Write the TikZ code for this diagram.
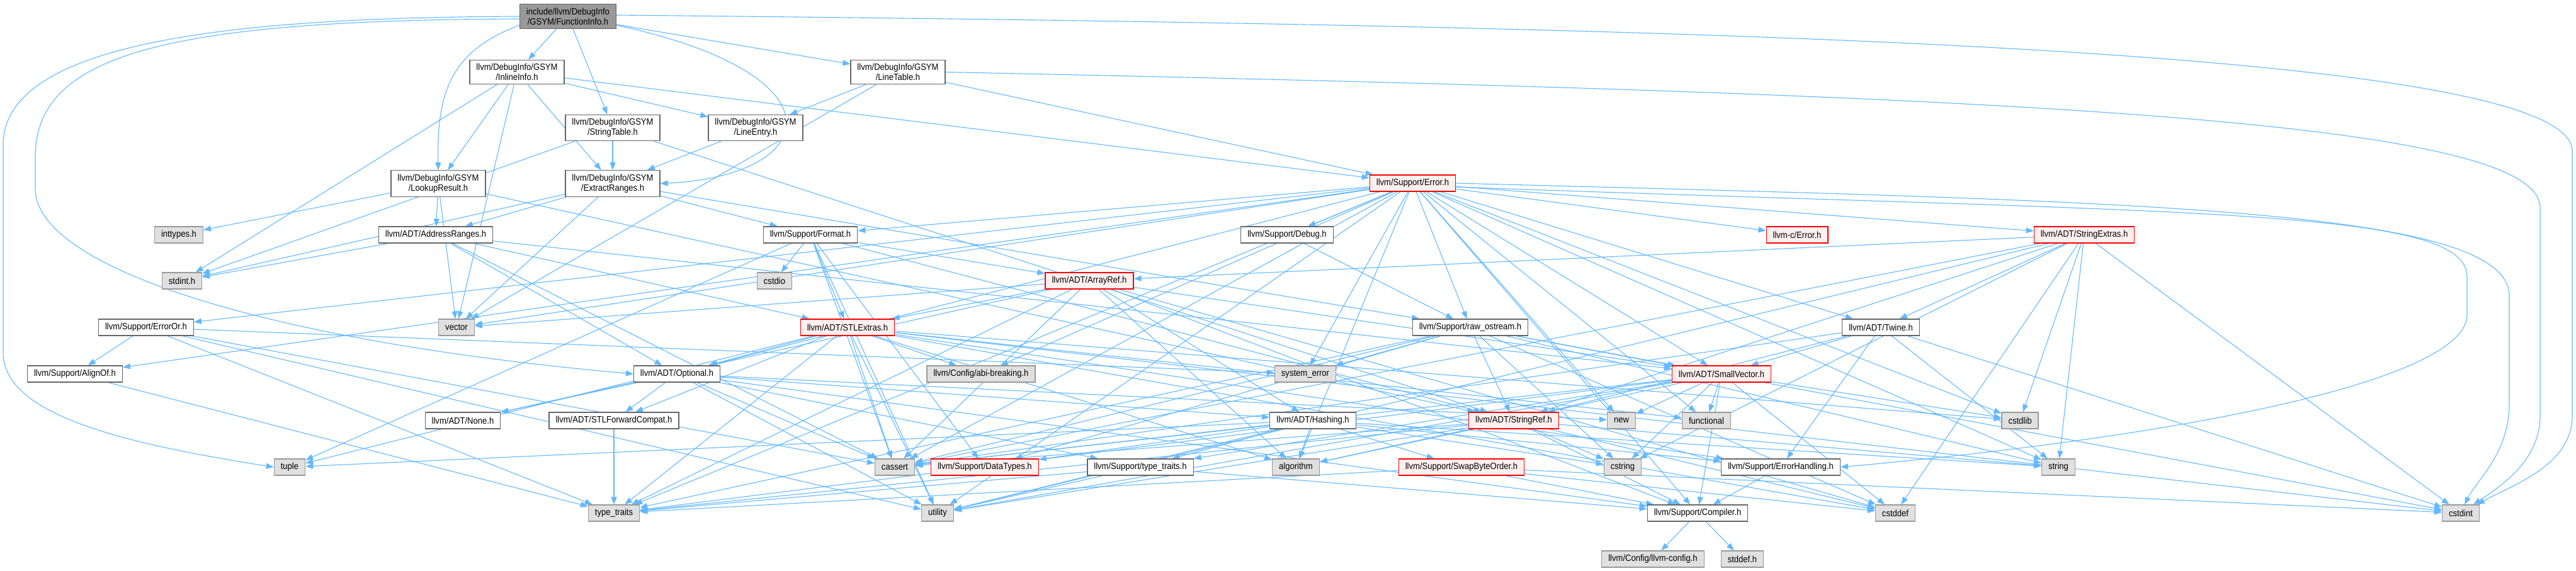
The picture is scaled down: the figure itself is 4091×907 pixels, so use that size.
\documentclass[tikz,border=0pt]{standalone}
\usepackage{fontspec}
\setmainfont{Liberation Sans}[FakeStretch=0.9]
\usetikzlibrary{arrows.meta, backgrounds}
\definecolor{edgeblue}{RGB}{99,184,255}
\definecolor{boxline}{RGB}{102,102,102}
\definecolor{rootfill}{RGB}{153,153,153}
\definecolor{sysline}{RGB}{153,153,153}
\definecolor{sysfill}{RGB}{224,224,224}
\definecolor{cutline}{RGB}{255,0,0}
\definecolor{cutfill}{RGB}{255,240,240}

\begin{document}
\begin{tikzpicture}[x=1pt, y=-1pt,
    every node/.style={font=\fontsize{14.5}{16}\selectfont, align=center,
                       inner xsep=10.5pt, inner ysep=6pt, minimum height=26pt,
                       line width=1.2pt},
    file/.style={rectangle, draw=boxline, fill=white},
    rootfile/.style={rectangle, draw=boxline, fill=rootfill},
    sysfile/.style={rectangle, draw=sysline, fill=sysfill},
    cutfile/.style={rectangle, draw=cutline, fill=cutfill},
    arrow/.style={-{Triangle[length=12pt, width=9pt]}, edgeblue, line width=1.1pt}
]
    \useasboundingbox (0,0) rectangle (4091,907);

    % GSYM headers
    \node[rootfile] (fi) at (902,26) {include/llvm/DebugInfo\\/GSYM/FunctionInfo.h};
    \node[file] (inl) at (821,114.5) {llvm/DebugInfo/GSYM\\/InlineInfo.h};
    \node[file] (ltab) at (1426,114.5) {llvm/DebugInfo/GSYM\\/LineTable.h};
    \node[file] (strtab) at (973,203) {llvm/DebugInfo/GSYM\\/StringTable.h};
    \node[file] (lentry) at (1200,203) {llvm/DebugInfo/GSYM\\/LineEntry.h};
    \node[file] (lookup) at (696,291.5) {llvm/DebugInfo/GSYM\\/LookupResult.h};
    \node[file] (extr) at (973,291.5) {llvm/DebugInfo/GSYM\\/ExtractRanges.h};
    \node[cutfile] (err) at (2243.5,291) {llvm/Support/Error.h};

    % row 373
    \node[sysfile] (inttypes) at (284,373) {inttypes.h};
    \node[file] (addr) at (692,373) {llvm/ADT/AddressRanges.h};
    \node[file] (fmt) at (1287,373) {llvm/Support/Format.h};
    \node[file] (dbg) at (2044,373) {llvm/Support/Debug.h};
    \node[cutfile] (cerr) at (2854,373) {llvm-c/Error.h};
    \node[cutfile] (strext) at (3310,373) {llvm/ADT/StringExtras.h};

    % row 446
    \node[sysfile] (stdint) at (289,446) {stdint.h};
    \node[sysfile] (cstdio) at (1230,446) {cstdio};
    \node[cutfile] (arrref) at (1730,446) {llvm/ADT/ArrayRef.h};

    % row 520
    \node[file] (erroror) at (232,520) {llvm/Support/ErrorOr.h};
    \node[sysfile] (vector) at (725,520) {vector};
    \node[cutfile] (stlext) at (1346,520) {llvm/ADT/STLExtras.h};
    \node[file] (rawos) at (2335,520) {llvm/Support/raw\_ostream.h};
    \node[file] (twine) at (2987,520) {llvm/ADT/Twine.h};

    % row 594
    \node[file] (alignof) at (119,594) {llvm/Support/AlignOf.h};
    \node[file] (optional) at (1075,594) {llvm/ADT/Optional.h};
    \node[sysfile] (abibrk) at (1558,594) {llvm/Config/abi-breaking.h};
    \node[sysfile] (syserr) at (2073,594) {system\_error};
    \node[cutfile] (smallvec) at (2734,594) {llvm/ADT/SmallVector.h};

    % row 668
    \node[file] (none) at (735,668) {llvm/ADT/None.h};
    \node[file] (stlfwd) at (975,668) {llvm/ADT/STLForwardCompat.h};
    \node[file] (hashing) at (2085,668) {llvm/ADT/Hashing.h};
    \node[cutfile] (strref) at (2404,668) {llvm/ADT/StringRef.h};
    \node[sysfile] (hnew) at (2575,668) {new};
    \node[sysfile] (functional) at (2710,668) {functional};
    \node[sysfile] (cstdlib) at (3208,668) {cstdlib};

    % row 742
    \node[sysfile] (tuple) at (460,742) {tuple};
    \node[sysfile] (cassert) at (1421,742) {cassert};
    \node[cutfile] (datatypes) at (1564,742) {llvm/Support/DataTypes.h};
    \node[file] (suptt) at (1811,742) {llvm/Support/type\_traits.h};
    \node[sysfile] (algorithm) at (2058,742) {algorithm};
    \node[cutfile] (swapbo) at (2321,742) {llvm/Support/SwapByteOrder.h};
    \node[sysfile] (cstring) at (2577,742) {cstring};
    \node[file] (errhand) at (2828,742) {llvm/Support/ErrorHandling.h};
    \node[sysfile] (string) at (3269,742) {string};

    % row 815
    \node[sysfile] (typetraits) at (975,815) {type\_traits};
    \node[sysfile] (utility) at (1489,815) {utility};
    \node[file] (compiler) at (2696,815) {llvm/Support/Compiler.h};
    \node[sysfile] (cstddef) at (3010,815) {cstddef};
    \node[sysfile] (cstdint) at (3908,815) {cstdint};

    % row 888
    \node[sysfile] (llvmcfg) at (2625,888) {llvm/Config/llvm-config.h};
    \node[sysfile] (stddef) at (2767,888) {stddef.h};

    \begin{scope}[on background layer]
    % FunctionInfo.h
    \draw[arrow] (fi) -- (inl);
    \draw[arrow] (fi) -- (strtab);
    \draw[arrow] (fi) -- (ltab);
    \draw[arrow] ([yshift=-14pt]fi.west) .. controls (720,80) and (693,140) .. (lookup.north);
    \draw[arrow] ([yshift=-14pt]fi.east) .. controls (1350,120) and (1300,280) .. (extr.east);
    \draw[arrow] (fi.west) .. controls (400,28) and (5,60) .. (5,230) -- (5,560)
        .. controls (5,660) and (200,705) .. (tuple.west);
    \draw[arrow] ([yshift=-4pt]fi.west) .. controls (250,32) and (56,90) .. (56,250) -- (56,300)
        .. controls (56,420) and (400,540) .. (optional.west);
    \draw[arrow] ([yshift=2pt]fi.east) .. controls (2600,40) and (4085,70) .. (4085,240) -- (4085,660)
        .. controls (4085,740) and (3990,770) .. ([xshift=-4pt]cstdint.north east);
    % InlineInfo.h
    \draw[arrow] (inl) -- (lookup);
    \draw[arrow] (inl) -- (extr);
    \draw[arrow] (inl) -- (lentry);
    \draw[arrow] (inl) -- (err);
    \draw[arrow] (inl) -- (stdint);
    \draw[arrow] (inl) -- (vector);
    % LineTable.h
    \draw[arrow] (ltab) -- (lentry);
    \draw[arrow] (ltab) -- (err);
    \draw[arrow] (ltab) -- (vector);
    \draw[arrow] (ltab.east) .. controls (3200,150) and (4034,190) .. (4034,330) -- (4034,660)
        .. controls (4034,730) and (3975,770) .. ([xshift=-10pt]cstdint.north east);
    % StringTable.h, LineEntry.h
    \draw[arrow] (strtab) -- (extr);
    \draw[arrow] (strtab) -- (stdint);
    \draw[arrow] (strtab) -- (strref);
    \draw[arrow] (lentry) -- (extr);
    % LookupResult.h
    \draw[arrow] (lookup) -- (addr);
    \draw[arrow] (lookup) -- (inttypes);
    \draw[arrow] (lookup) -- (strref);
    \draw[arrow] (lookup) -- (vector);
    % ExtractRanges.h
    \draw[arrow] (extr) -- (addr);
    \draw[arrow] (extr) -- (fmt);
    \draw[arrow] (extr) -- (rawos);
    \draw[arrow] (extr) -- (stdint);
    \draw[arrow] (extr) -- (vector);
    % AddressRanges.h
    \draw[arrow] (addr) -- (optional);
    \draw[arrow] (addr) -- (stlext);
    \draw[arrow] (addr) -- (smallvec);
    \draw[arrow] (addr) -- (cassert);
    \draw[arrow] (addr) -- (stdint);
    % Error.h
    \draw[arrow] (err) -- (cerr);
    \draw[arrow] (err) -- (strext);
    \draw[arrow] (err) -- (twine);
    \draw[arrow] (err) -- (abibrk);
    \draw[arrow] (err) -- (alignof);
    \draw[arrow] (err) -- (dbg);
    \draw[arrow] (err) -- (erroror);
    \draw[arrow] (err) -- (fmt);
    \draw[arrow] (err) -- (rawos);
    \draw[arrow] (err) -- (smallvec);
    \draw[arrow] (err) -- (optional);
    \draw[arrow] (err) -- (compiler);
    \draw[arrow] (err) -- (algorithm);
    \draw[arrow] (err) -- (cassert);
    \draw[arrow] (err) -- (cstdlib);
    \draw[arrow] (err) -- (functional);
    \draw[arrow] (err) -- (hnew);
    \draw[arrow] (err) -- (string);
    \draw[arrow] (err) -- (syserr);
    \draw[arrow] (err) -- (typetraits);
    \draw[arrow] (err) -- (utility);
    \draw[arrow] (err) -- (vector);
    \draw[arrow] (err.east) .. controls (3400,320) and (3985,330) .. (3985,470) -- (3985,640)
        .. controls (3985,720) and (3935,760) .. ([xshift=6pt]cstdint.north);
    \draw[arrow] ([yshift=-6pt]err.east) .. controls (3500,340) and (3918,330) .. (3918,440) -- (3918,500)
        .. controls (3918,600) and (3500,690) .. (errhand.east);
    % Format.h, Debug.h
    \draw[arrow] (fmt) -- (arrref);
    \draw[arrow] (fmt) -- (stlext);
    \draw[arrow] (fmt) -- (strref);
    \draw[arrow] (fmt) -- (datatypes);
    \draw[arrow] (fmt) -- (cassert);
    \draw[arrow] (fmt) -- (cstdio);
    \draw[arrow] (fmt) -- (tuple);
    \draw[arrow] (fmt) -- (utility);
    \draw[arrow] (dbg) -- (rawos);
    % StringExtras.h
    \draw[arrow] (strext) -- (arrref);
    \draw[arrow] (strext) -- (strref);
    \draw[arrow] (strext) -- (twine);
    \draw[arrow] (strext) -- (cassert);
    \draw[arrow] (strext) -- (cstddef);
    \draw[arrow] (strext) -- (cstdint);
    \draw[arrow] (strext) -- (cstdlib);
    \draw[arrow] (strext) -- (cstring);
    \draw[arrow] (strext) -- (string);
    \draw[arrow] (strext) -- (utility);
    % ArrayRef.h
    \draw[arrow] (arrref) -- (hashing);
    \draw[arrow] (arrref) -- (none);
    \draw[arrow] (arrref) -- (stlext);
    \draw[arrow] (arrref) -- (smallvec);
    \draw[arrow] (arrref) -- (compiler);
    \draw[arrow] (arrref) -- (algorithm);
    \draw[arrow] (arrref) -- (cassert);
    \draw[arrow] (arrref) -- (cstddef);
    \draw[arrow] (arrref) -- (typetraits);
    \draw[arrow] (arrref) -- (vector);
    % STLExtras.h
    \draw[arrow] (stlext) -- (optional);
    \draw[arrow] (stlext) -- (stlfwd);
    \draw[arrow] (stlext) -- (abibrk);
    \draw[arrow] (stlext) -- (errhand);
    \draw[arrow] (stlext) -- (algorithm);
    \draw[arrow] (stlext) -- (cassert);
    \draw[arrow] (stlext) -- (cstddef);
    \draw[arrow] (stlext) -- (cstdint);
    \draw[arrow] (stlext) -- (cstdlib);
    \draw[arrow] (stlext) -- (functional);
    \draw[arrow] (stlext) -- (tuple);
    \draw[arrow] (stlext) -- (typetraits);
    \draw[arrow] (stlext) -- (utility);
    % raw_ostream.h
    \draw[arrow] (rawos) -- (strref);
    \draw[arrow] (rawos) -- (smallvec);
    \draw[arrow] (rawos) -- (datatypes);
    \draw[arrow] (rawos) -- (cassert);
    \draw[arrow] (rawos) -- (cstddef);
    \draw[arrow] (rawos) -- (cstdint);
    \draw[arrow] (rawos) -- (cstring);
    \draw[arrow] (rawos) -- (string);
    \draw[arrow] (rawos) -- (syserr);
    \draw[arrow] (rawos) -- (typetraits);
    % Twine.h
    \draw[arrow] (twine) -- (smallvec);
    \draw[arrow] (twine) -- (strref);
    \draw[arrow] (twine) -- (errhand);
    \draw[arrow] (twine) -- (cassert);
    \draw[arrow] (twine) -- (cstdint);
    \draw[arrow] (twine) -- (string);
    % ErrorOr.h, AlignOf.h
    \draw[arrow] (erroror) -- (alignof);
    \draw[arrow] (erroror) -- (cassert);
    \draw[arrow] (erroror) -- (syserr);
    \draw[arrow] (erroror) -- (typetraits);
    \draw[arrow] (erroror) -- (utility);
    \draw[arrow] (alignof) -- (typetraits);
    % Optional.h, STLForwardCompat.h
    \draw[arrow] (optional) -- (none);
    \draw[arrow] (optional) -- (stlfwd);
    \draw[arrow] (optional) -- (hashing);
    \draw[arrow] (optional) -- (compiler);
    \draw[arrow] (optional) -- (suptt);
    \draw[arrow] (optional) -- (cassert);
    \draw[arrow] (optional) -- (hnew);
    \draw[arrow] (optional) -- (utility);
    \draw[arrow] (stlfwd) -- (typetraits);
    % SmallVector.h
    \draw[arrow] (smallvec) -- (compiler);
    \draw[arrow] (smallvec) -- (suptt);
    \draw[arrow] (smallvec) -- (algorithm);
    \draw[arrow] (smallvec) -- (cassert);
    \draw[arrow] (smallvec) -- (cstddef);
    \draw[arrow] (smallvec) -- (cstdlib);
    \draw[arrow] (smallvec) -- (cstring);
    \draw[arrow] (smallvec) -- (functional);
    \draw[arrow] (smallvec) -- (hnew);
    \draw[arrow] (smallvec) -- (typetraits);
    \draw[arrow] (smallvec) -- (utility);
    % Hashing.h
    \draw[arrow] (hashing) -- (errhand);
    \draw[arrow] (hashing) -- (swapbo);
    \draw[arrow] (hashing) -- (suptt);
    \draw[arrow] (hashing) -- (datatypes);
    \draw[arrow] (hashing) -- (algorithm);
    \draw[arrow] (hashing) -- (cassert);
    \draw[arrow] (hashing) -- (cstring);
    \draw[arrow] (hashing) -- (string);
    \draw[arrow] (hashing) -- (tuple);
    \draw[arrow] (hashing) -- (utility);
    % StringRef.h
    \draw[arrow] (strref) -- (compiler);
    \draw[arrow] (strref) -- (algorithm);
    \draw[arrow] (strref) -- (cassert);
    \draw[arrow] (strref) -- (cstddef);
    \draw[arrow] (strref) -- (cstring);
    \draw[arrow] (strref) -- (string);
    \draw[arrow] (strref) -- (typetraits);
    \draw[arrow] (strref) -- (utility);
    % Support/type_traits.h, SwapByteOrder.h, ErrorHandling.h
    \draw[arrow] (suptt) -- (compiler);
    \draw[arrow] (suptt) -- (typetraits);
    \draw[arrow] (suptt) -- (utility);
    \draw[arrow] (swapbo) -- (compiler);
    \draw[arrow] (swapbo) -- (cstddef);
    \draw[arrow] (swapbo) -- (cstdint);
    \draw[arrow] (swapbo) -- (typetraits);
    \draw[arrow] (errhand) -- (compiler);
    % Compiler.h
    \draw[arrow] (compiler) -- (llvmcfg);
    \draw[arrow] (compiler) -- (stddef);
    \end{scope}
\end{tikzpicture}
\end{document}
